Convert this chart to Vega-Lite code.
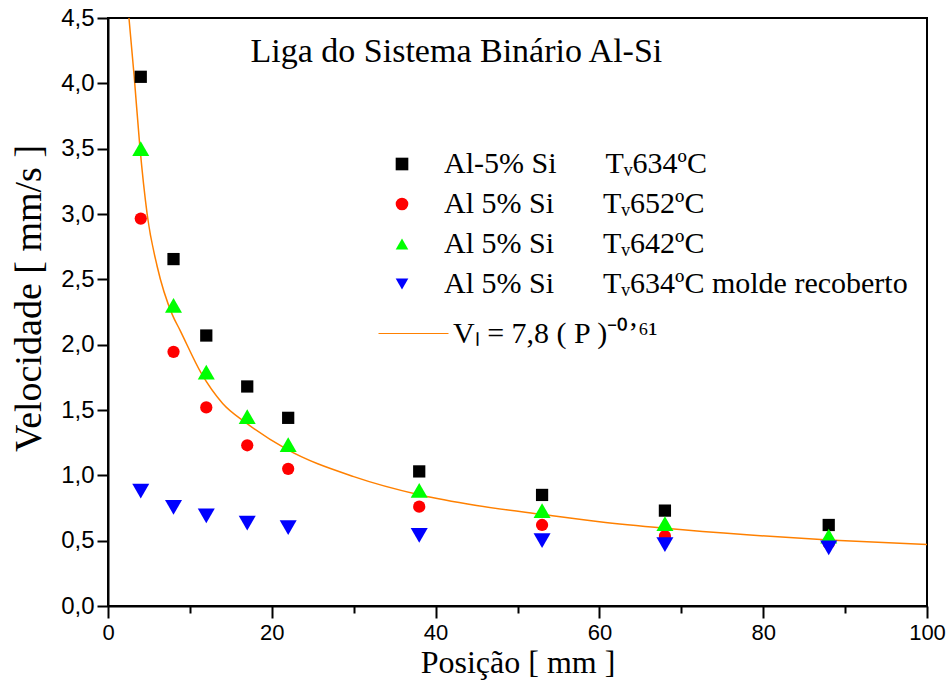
{
  "$schema": "https://vega.github.io/schema/vega-lite/v6.json",
  "width": 819,
  "height": 588,
  "autosize": {"type": "none"},
  "padding": {"left": 108, "top": 18, "right": 25, "bottom": 94},
  "background": "white",
  "config": {
    "view": {"stroke": "black", "strokeWidth": 2},
    "font": "Liberation Serif"
  },
  "datasets": {
    "pontos": [
      {"P": 4, "V": 4.05, "serie": "Al-5% Si Tv634ºC"},
      {"P": 8, "V": 2.655, "serie": "Al-5% Si Tv634ºC"},
      {"P": 12, "V": 2.07, "serie": "Al-5% Si Tv634ºC"},
      {"P": 17, "V": 1.68, "serie": "Al-5% Si Tv634ºC"},
      {"P": 22, "V": 1.44, "serie": "Al-5% Si Tv634ºC"},
      {"P": 38, "V": 1.03, "serie": "Al-5% Si Tv634ºC"},
      {"P": 53, "V": 0.85, "serie": "Al-5% Si Tv634ºC"},
      {"P": 68, "V": 0.73, "serie": "Al-5% Si Tv634ºC"},
      {"P": 88, "V": 0.62, "serie": "Al-5% Si Tv634ºC"},
      {"P": 4, "V": 2.965, "serie": "Al 5% Si Tv652ºC"},
      {"P": 8, "V": 1.945, "serie": "Al 5% Si Tv652ºC"},
      {"P": 12, "V": 1.52, "serie": "Al 5% Si Tv652ºC"},
      {"P": 17, "V": 1.23, "serie": "Al 5% Si Tv652ºC"},
      {"P": 22, "V": 1.05, "serie": "Al 5% Si Tv652ºC"},
      {"P": 38, "V": 0.76, "serie": "Al 5% Si Tv652ºC"},
      {"P": 53, "V": 0.62, "serie": "Al 5% Si Tv652ºC"},
      {"P": 68, "V": 0.535, "serie": "Al 5% Si Tv652ºC"},
      {"P": 88, "V": 0.48, "serie": "Al 5% Si Tv652ºC"},
      {"P": 4, "V": 3.5, "serie": "Al 5% Si Tv642ºC"},
      {"P": 8, "V": 2.3, "serie": "Al 5% Si Tv642ºC"},
      {"P": 12, "V": 1.79, "serie": "Al 5% Si Tv642ºC"},
      {"P": 17, "V": 1.45, "serie": "Al 5% Si Tv642ºC"},
      {"P": 22, "V": 1.235, "serie": "Al 5% Si Tv642ºC"},
      {"P": 38, "V": 0.885, "serie": "Al 5% Si Tv642ºC"},
      {"P": 53, "V": 0.73, "serie": "Al 5% Si Tv642ºC"},
      {"P": 68, "V": 0.63, "serie": "Al 5% Si Tv642ºC"},
      {"P": 88, "V": 0.535, "serie": "Al 5% Si Tv642ºC"},
      {"P": 4, "V": 0.88, "serie": "Al 5% Si Tv634ºC molde recoberto"},
      {"P": 8, "V": 0.755, "serie": "Al 5% Si Tv634ºC molde recoberto"},
      {"P": 12, "V": 0.69, "serie": "Al 5% Si Tv634ºC molde recoberto"},
      {"P": 17, "V": 0.635, "serie": "Al 5% Si Tv634ºC molde recoberto"},
      {"P": 22, "V": 0.6, "serie": "Al 5% Si Tv634ºC molde recoberto"},
      {"P": 38, "V": 0.54, "serie": "Al 5% Si Tv634ºC molde recoberto"},
      {"P": 53, "V": 0.5, "serie": "Al 5% Si Tv634ºC molde recoberto"},
      {"P": 68, "V": 0.47, "serie": "Al 5% Si Tv634ºC molde recoberto"},
      {"P": 88, "V": 0.445, "serie": "Al 5% Si Tv634ºC molde recoberto"}
    ],
    "curva": [
      {"P": 2.56, "V": 4.5},
      {"P": 3.2, "V": 4.05},
      {"P": 3.87, "V": 3.53},
      {"P": 4.8, "V": 2.99},
      {"P": 6, "V": 2.6},
      {"P": 7.85, "V": 2.23},
      {"P": 8.8, "V": 2.11},
      {"P": 11.4, "V": 1.78},
      {"P": 14, "V": 1.55},
      {"P": 16.9, "V": 1.4},
      {"P": 21.8, "V": 1.2},
      {"P": 30, "V": 0.99},
      {"P": 38.1, "V": 0.85},
      {"P": 45, "V": 0.77},
      {"P": 53.2, "V": 0.7},
      {"P": 60, "V": 0.645},
      {"P": 68, "V": 0.595},
      {"P": 78, "V": 0.545},
      {"P": 88, "V": 0.505},
      {"P": 100, "V": 0.47}
    ]
  },
  "resolve": {"axis": {"x": "independent"}},
  "layer": [
    {
      "data": {"name": "curva"},
      "mark": {"type": "line", "strokeWidth": 1.5, "interpolate": "monotone", "color": "#FF8000"},
      "encoding": {
        "x": {
          "field": "P",
          "type": "quantitative",
          "scale": {"domain": [0, 100], "nice": false, "zero": false},
          "axis": {
            "orient": "top",
            "title": "Liga do Sistema Binário Al-Si",
            "labels": false,
            "ticks": false,
            "domain": false,
            "grid": false,
            "titleFont": "Liberation Serif",
            "titleFontSize": 34,
            "titleFontWeight": "normal",
            "titleColor": "black",
            "titleAlign": "left",
            "titleBaseline": "alphabetic",
            "titleAngle": 0,
            "titleX": 142,
            "titleY": 43
          }
        },
        "y": {
          "field": "V",
          "type": "quantitative",
          "scale": {"domain": [0, 4.5], "nice": false, "zero": false}
        },
        "stroke": {
          "datum": "VL = 7,8 ( P )-0,61",
          "scale": {"range": ["#FF8000"]},
          "legend": {
            "orient": "none",
            "legendX": 270,
            "legendY": 280,
            "title": null,
            "padding": 0,
            "symbolType": "stroke",
            "symbolSize": 4900,
            "symbolStrokeWidth": 1,
            "labelOffset": 4,
            "labelFont": "Liberation Serif",
            "labelFontSize": 30,
            "labelColor": "black",
            "labelLimit": 400,
            "labelExpr": "'Vₗ = 7,8 ( P )⁻⁰ʼ⁶¹'",
            "encode": {"symbols": {"update": {"stroke": {"value": "black"}, "strokeWidth": {"value": 1}}}}
          }
        }
      }
    },
    {
      "data": {"name": "pontos"},
      "mark": {"type": "point", "filled": true, "opacity": 1},
      "encoding": {
        "x": {
          "field": "P",
          "type": "quantitative",
          "scale": {"domain": [0, 100], "nice": false, "zero": false},
          "axis": {
            "orient": "bottom",
            "title": "Posição [ mm ]",
            "values": [0, 10, 20, 30, 40, 50, 60, 70, 80, 90, 100],
            "labelExpr": "datum.value % 20 === 0 ? datum.label : ''",
            "tickSize": {"condition": {"test": "datum.value % 20 === 0", "value": 12}, "value": 7},
            "tickWidth": 2,
            "tickColor": "black",
            "domainColor": "black",
            "domainWidth": 2,
            "grid": false,
            "labelFont": "Liberation Sans",
            "labelFontSize": 22,
            "labelColor": "black",
            "labelPadding": 4,
            "labelFlush": false,
            "titleFont": "Liberation Serif",
            "titleFontSize": 32,
            "titleFontWeight": "normal",
            "titleColor": "black",
            "titlePadding": 4
          }
        },
        "y": {
          "field": "V",
          "type": "quantitative",
          "scale": {"domain": [0, 4.5], "nice": false, "zero": false},
          "axis": {
            "title": "Velocidade [ mm/s ]",
            "values": [0, 0.25, 0.5, 0.75, 1, 1.25, 1.5, 1.75, 2, 2.25, 2.5, 2.75, 3, 3.25, 3.5, 3.75, 4, 4.25, 4.5],
            "labelExpr": "datum.value % 0.5 === 0 ? replace(format(datum.value, '.1f'), '.', ',') : ''",
            "tickSize": {"condition": {"test": "datum.value % 0.5 === 0", "value": 11}, "value": 6},
            "tickWidth": 2,
            "tickColor": "black",
            "domainColor": "black",
            "domainWidth": 2,
            "grid": false,
            "labelFont": "Liberation Sans",
            "labelFontSize": 24,
            "labelColor": "black",
            "labelPadding": 3,
            "labelFlush": false,
            "titleFont": "Liberation Serif",
            "titleFontSize": 38,
            "titleFontWeight": "normal",
            "titleColor": "black",
            "titlePadding": 12,
            "titleY": 280
          }
        },
        "color": {
          "field": "serie",
          "type": "nominal",
          "scale": {
            "domain": ["Al-5% Si Tv634ºC", "Al 5% Si Tv652ºC", "Al 5% Si Tv642ºC", "Al 5% Si Tv634ºC molde recoberto"],
            "range": ["#000000", "#FF0000", "#00FF00", "#0000FF"]
          },
          "legend": {
            "orient": "none",
            "legendX": 279,
            "legendY": 131,
            "title": null,
            "padding": 0,
            "symbolSize": 160,
            "labelOffset": 27,
            "rowPadding": 10,
            "labelFont": "Liberation Serif",
            "labelFontSize": 30,
            "labelColor": "black",
            "labelLimit": 600,
            "labelExpr": "replace(datum.label, ' Tv', '\u2003\u2009\u2009 Tᵥ')"
          }
        },
        "shape": {
          "field": "serie",
          "type": "nominal",
          "scale": {
            "domain": ["Al-5% Si Tv634ºC", "Al 5% Si Tv652ºC", "Al 5% Si Tv642ºC", "Al 5% Si Tv634ºC molde recoberto"],
            "range": ["square", "circle", "triangle-up", "triangle-down"]
          },
          "legend": {
            "orient": "none",
            "legendX": 279,
            "legendY": 131,
            "title": null,
            "padding": 0,
            "symbolSize": 160,
            "labelOffset": 27,
            "rowPadding": 10,
            "labelFont": "Liberation Serif",
            "labelFontSize": 30,
            "labelColor": "black",
            "labelLimit": 600,
            "labelExpr": "replace(datum.label, ' Tv', '\u2003\u2009\u2009 Tᵥ')"
          }
        },
        "size": {
          "condition": {"test": "indexof(datum.serie, '642') >= 0 || indexof(datum.serie, 'molde') >= 0", "value": 290},
          "value": 150
        }
      }
    }
  ]
}
